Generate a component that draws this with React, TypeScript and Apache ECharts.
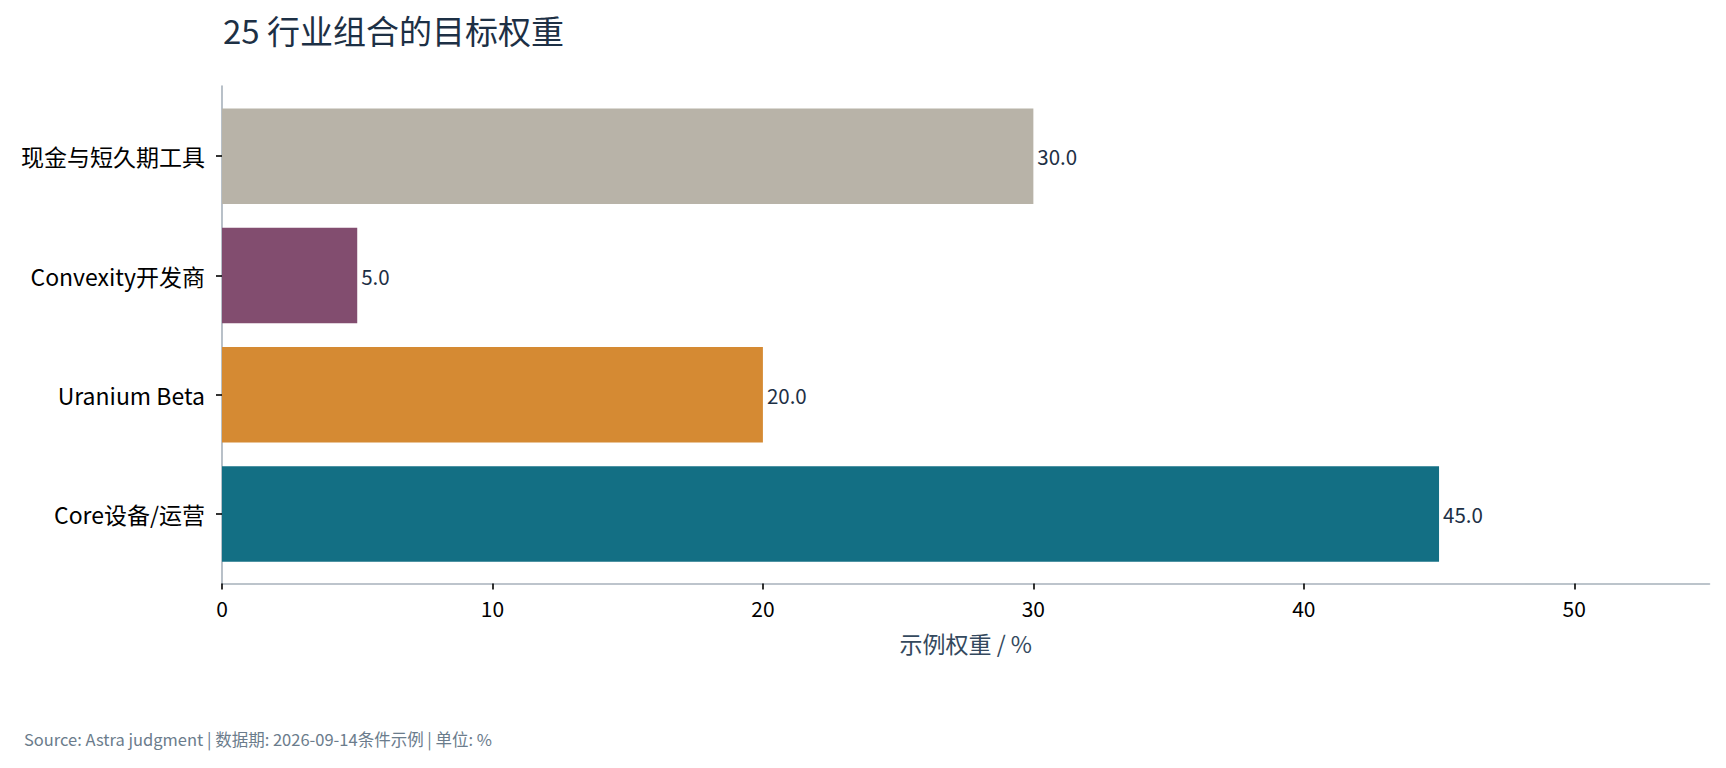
import React, { useEffect, useRef } from 'react';
import * as echarts from 'echarts';

const categories = ['Core设备/运营', 'Uranium Beta', 'Convexity开发商', '现金与短久期工具'];
const weights = [45.0, 20.0, 5.0, 30.0];
const barColors = ['#136f84', '#d58a33', '#824d6f', '#b8b3a8'];
const xTicks = [0, 10, 20, 30, 40, 50];

const titleText = '25 行业组合的目标权重';
const axisTitle = '示例权重 / %';
const footerText = 'Source: Astra judgment | 数据期: 2026-09-14条件示例 | 单位: %';

const FONT = '"Noto Sans CJK SC", "Noto Sans", sans-serif';

const App: React.FC = () => {
  const chartRef = useRef<HTMLDivElement>(null);

  useEffect(() => {
    document.body.style.margin = '0';
    if (!chartRef.current) return;
    const chart = echarts.init(chartRef.current, undefined, { renderer: 'svg' });

    const option: echarts.EChartsOption = {
      animation: false,
      backgroundColor: '#ffffff',
      textStyle: { fontFamily: FONT },
      title: {
        text: titleText,
        left: 218,
        top: 8,
        textStyle: { fontFamily: FONT, fontSize: 33, fontWeight: 'normal', color: '#1d3045' }
      },
      graphic: [
        {
          type: 'text',
          left: 24,
          top: 731,
          style: { text: footerText, fontFamily: FONT, fontSize: 16.5, fill: '#6b7c8c' }
        }
      ],
      grid: [
        // bars
        { left: 222, right: 16.5, top: 96.6, bottom: 194.3 },
        // outer frame for the axis lines (matplotlib-style margins)
        { left: 222, right: 16.5, top: 86, bottom: 184.6 }
      ],
      xAxis: [
        { type: 'value', gridIndex: 0, min: 0, max: 55, show: false },
        {
          type: 'value',
          gridIndex: 1,
          min: 0,
          max: 55,
          interval: 10,
          name: axisTitle,
          nameLocation: 'middle',
          nameGap: 48,
          nameTextStyle: { fontFamily: FONT, fontSize: 23, color: '#34495e' },
          axisLine: { show: true, lineStyle: { color: '#a7b1bb', width: 1.6 } },
          axisTick: { show: true, length: 6, customValues: xTicks, lineStyle: { color: '#000000', width: 1.6 } },
          axisLabel: { fontFamily: FONT, fontSize: 21, color: '#000000', margin: 14, customValues: xTicks },
          splitLine: { show: false }
        }
      ],
      yAxis: [
        {
          type: 'category',
          gridIndex: 0,
          data: categories,
          axisLine: { show: false },
          axisTick: { show: true, alignWithLabel: true, length: 6, lineStyle: { color: '#000000', width: 1.6 } },
          axisLabel: { fontFamily: FONT, fontSize: 23, color: '#000000', margin: 17 }
        },
        {
          type: 'category',
          gridIndex: 1,
          data: categories,
          axisLine: { show: true, lineStyle: { color: '#a7b1bb', width: 1.6 } },
          axisTick: { show: false },
          axisLabel: { show: false }
        }
      ],
      series: [
        {
          type: 'bar',
          xAxisIndex: 0,
          yAxisIndex: 0,
          barWidth: '80%',
          data: weights.map((v, i) => ({ value: v, itemStyle: { color: barColors[i] } })),
          label: {
            show: true,
            position: 'right',
            distance: 4,
            formatter: (p: any) => Number(p.value).toFixed(1),
            fontFamily: FONT,
            fontSize: 20.5,
            color: '#1d3045'
          }
        }
      ]
    };

    chart.setOption(option);
    return () => chart.dispose();
  }, []);

  return <div ref={chartRef} style={{ width: 1726, height: 768 }} />;
};

export default App;
